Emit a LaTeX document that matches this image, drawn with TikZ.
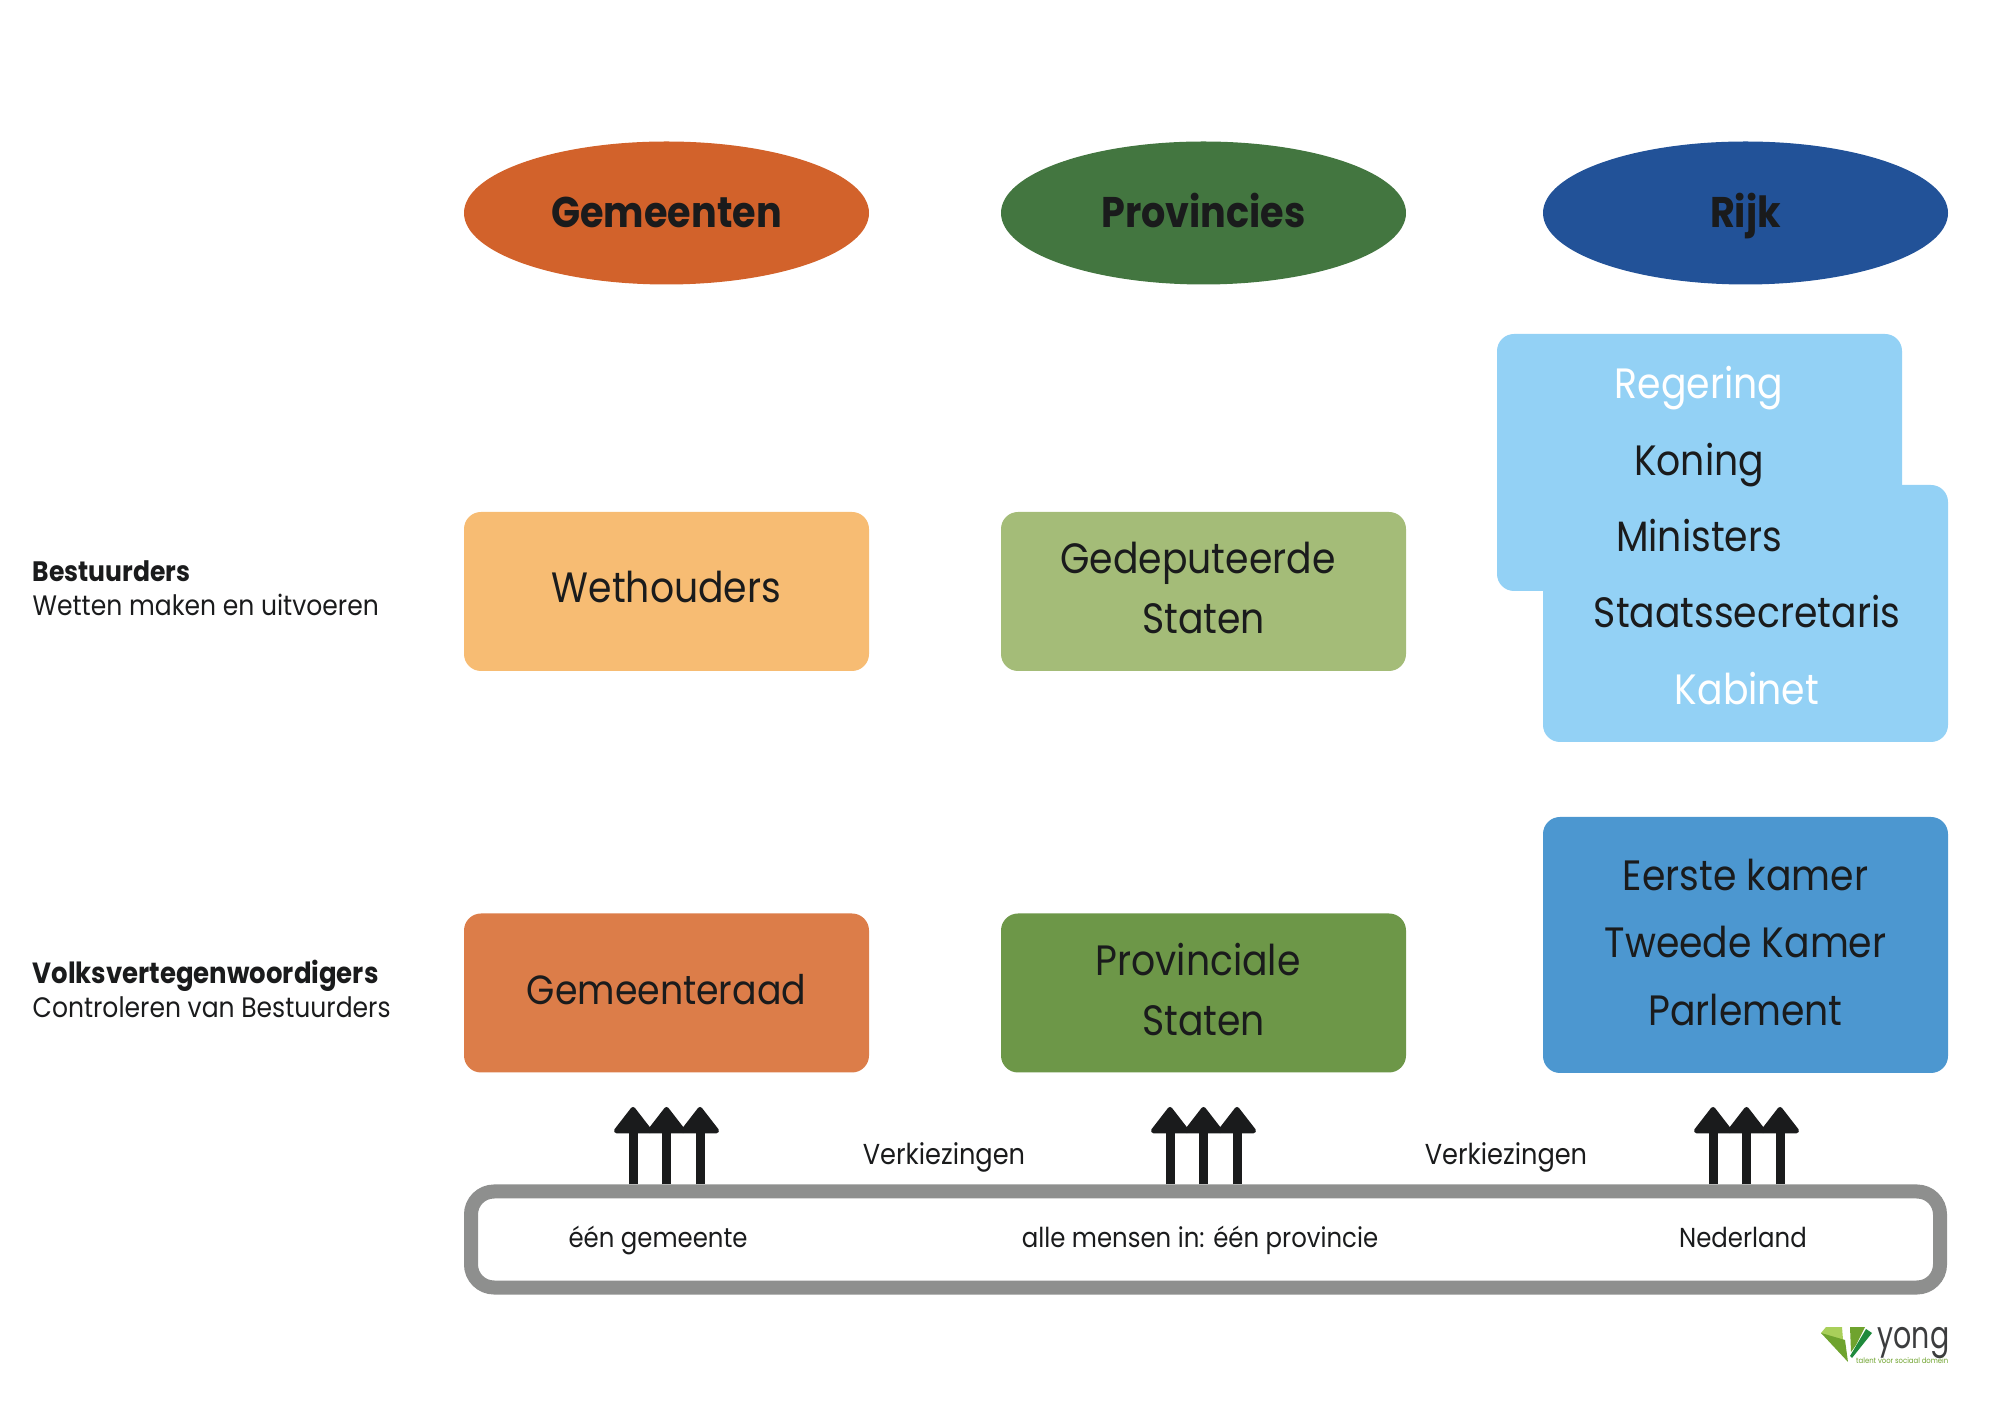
\documentclass[tikz,border=0pt]{standalone}
\usepackage{fontspec}
\setmainfont[FakeStretch=.89]{Poppins}
\newfontfamily\logofont[FakeStretch=.75]{Poppins}
\usetikzlibrary{arrows.meta,shapes.geometric}
\definecolor{gemdonker}{HTML}{D2622B}
\definecolor{gemlicht}{HTML}{F7BC73}
\definecolor{gemmidden}{HTML}{DC7D49}
\definecolor{prodonker}{HTML}{437640}
\definecolor{prolicht}{HTML}{A4BC78}
\definecolor{promidden}{HTML}{6D9748}
\definecolor{rijkdonker}{HTML}{225298}
\definecolor{rijklicht}{HTML}{93D1F5}
\definecolor{rijkmidden}{HTML}{4C97D0}
\definecolor{tekst}{HTML}{1A1B1C}
\definecolor{rand}{HTML}{8E8F8E}
\definecolor{logolicht}{HTML}{A9CF5A}
\definecolor{logogroen}{HTML}{6FA32E}
\definecolor{logodonker}{HTML}{1F8A3C}
\tikzset{
  laag/.style={ellipse, minimum width=4.05cm, minimum height=1.43cm, inner sep=0pt, text=tekst,
    text height=.3cm, text depth=0cm, font=\bfseries\fontsize{12.2}{14}\selectfont},
  vak/.style={rounded corners=.17cm, minimum width=4.05cm, minimum height=1.59cm, inner sep=0pt,
    text=tekst, text height=.3cm, text depth=.07cm, font=\fontsize{12.07}{14}\selectfont},
  regel/.style={anchor=base, text=tekst, font=\fontsize{12.07}{14}\selectfont},
  klein/.style={anchor=base, text=tekst, font=\fontsize{7.8}{9}\selectfont},
  kant/.style={anchor=base west, text=tekst, inner sep=0pt, font=\fontsize{8}{9}\selectfont},
  kiespijl/.style={line width=.09cm, tekst,
    -{Triangle[round,width=.42cm,length=.28cm,line width=.05cm]}}
}
\begin{document}
\begin{tikzpicture}
  \useasboundingbox (0,0) rectangle (20,14.14);

  % bovenste rij
  \node[laag, fill=gemdonker] (gemeenten) at (6.665,12.01) {Gemeenten};
  \node[laag, fill=prodonker] (provincies) at (12.035,12.01) {Provincies};
  \node[laag, fill=rijkdonker] (rijk) at (17.455,12.01) {Rijk};

  % bestuurders
  \node[vak, fill=gemlicht] (wethouders) at (6.665,8.225) {Wethouders};
  \node[vak, fill=prolicht] (gedeputeerde) at (12.035,8.225) {};
  \node[vak, fill=rijklicht, minimum height=2.57cm] (regering) at (16.995,9.515) {};
  \node[vak, fill=rijklicht, minimum height=2.57cm] (kabinet) at (17.455,8.005) {};
  \foreach \naam/\x/\y/\kleur/\woord in {gedtxt/11.98/8.405/tekst/Gedeputeerde, gedstaten/12.035/7.805/tekst/Staten,
      regeringtxt/16.99/10.155/white/Regering, koning/16.99/9.385/tekst/Koning, ministers/16.99/8.625/tekst/Ministers,
      staats/17.47/7.865/tekst/Staatssecretaris, kabinettxt/17.47/7.095/white/Kabinet}
    \node[regel, text=\kleur] (\naam) at (\x,\y) {\woord};

  % volksvertegenwoordigers
  \node[vak, fill=gemmidden, font=\fontsize{11.6}{14}\selectfont] (gemeenteraad) at (6.665,4.21) {Gemeenteraad};
  \node[vak, fill=promidden] (provinciale) at (12.035,4.21) {};
  \node[vak, fill=rijkmidden, minimum height=2.56cm] (parlement) at (17.455,4.69) {};
  \foreach \naam/\x/\y/\woord in {provtxt/11.98/4.385/Provinciale, provstaten/12.035/3.785/Staten,
      eerste/17.455/5.235/Eerste kamer, tweede/17.455/4.565/Tweede Kamer, parlementtxt/17.455/3.885/Parlement}
    \node[regel] (\naam) at (\x,\y) {\woord};

  % kiezers
  \node[draw=rand, line width=.14cm, rounded corners=.23cm, minimum width=14.69cm,
    minimum height=.96cm] (kiezers) at (12.055,1.745) {};
  \foreach \naam/\x/\y/\woord in {een/6.58/1.66/één gemeente, alle/12.0/1.66/alle mensen in: één provincie,
      nederland/17.43/1.66/Nederland}
    \node[klein] (\naam) at (\x,\y) {\woord};
  \foreach \naam/\x in {verkiezing1/9.44, verkiezing2/15.06}
    \node[klein, font=\fontsize{8.2}{9}\selectfont] (\naam) at (\x,2.495) {Verkiezingen};

  % pijlen
  \foreach \x in {6.665,12.035,17.465}
    \foreach \d in {-.335,0,.335} {
      \coordinate (punt) at (\x+\d,3.07);
      \draw[kiespijl] (punt |- kiezers.north) -- (punt);
    }

  % zijkant
  \node[kant] (bestuurders) at (.32,8.32) {\textbf{Bestuurders}};
  \node[kant] (wetten) at (.32,7.98) {Wetten maken en uitvoeren};
  \node[kant, font=\fontsize{8.3}{9}\selectfont] (volks) at (.32,4.30) {\textbf{Volksvertegenwoordigers}};
  \node[kant] (controleren) at (.32,3.96) {Controleren van Bestuurders};

  % logo
  \fill[logolicht] (18.26,.87) -- (18.21,.81) -- (18.44,.62) -- (18.42,.87) -- cycle;
  \fill[logogroen] (18.21,.81) -- (18.48,.52) -- (18.45,.74) -- cycle;
  \fill[logogroen] (18.50,.87) -- (18.65,.87) -- (18.56,.69) -- (18.51,.62) -- cycle;
  \fill[logodonker] (18.66,.85) -- (18.72,.81) -- (18.52,.56) -- (18.50,.58) -- cycle;
  \node[anchor=base west, inner sep=0pt, text=tekst!85, font=\logofont\fontsize{10.8}{12}\selectfont] (yong) at (18.77,.66) {yong};
  \node[anchor=base east, inner sep=0pt, text=logogroen, font=\fontsize{2.2}{3}\selectfont] (slogan) at (19.49,.51) {talent voor sociaal domein};
\end{tikzpicture}
\end{document}
